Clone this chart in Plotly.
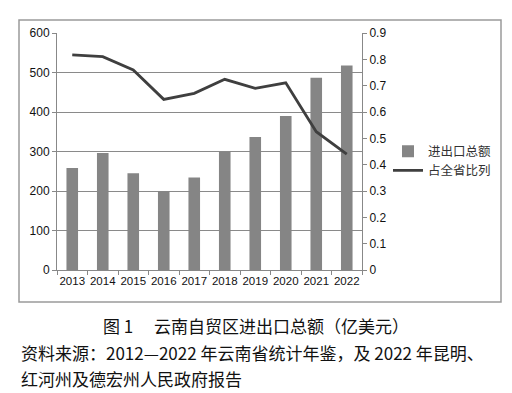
import plotly.graph_objects as go

years = ["2013", "2014", "2015", "2016", "2017", "2018", "2019", "2020", "2021", "2022"]
trade_total = [258, 296, 245, 200, 234, 300, 337, 390, 487, 518]
share_ratio = [0.817, 0.81, 0.76, 0.648, 0.671, 0.724, 0.69, 0.711, 0.525, 0.44]

L, R, T, B = 57, 362, 33, 270
W, H = R - L, B - T

def px(x):
    return (x - L) / W

def py(y):
    return (B - y) / H

font_cjk = "Noto Sans CJK SC"
font_tick = "Liberation Sans"

fig = go.Figure()
fig.add_trace(go.Bar(x=years, y=trade_total, name="进出口总额",
                     marker=dict(color="#858585", line=dict(width=0)),
                     width=0.38))
fig.add_trace(go.Scatter(x=years, y=share_ratio, name="占全省比列", yaxis="y2",
                         mode="lines", line=dict(color="#3f3f3f", width=2.8)))

fig.update_layout(
    width=512, height=393,
    margin=dict(l=L, r=512 - R, t=T, b=393 - B, autoexpand=False),
    paper_bgcolor="white", plot_bgcolor="white",
    showlegend=True,
    legend=dict(x=px(388), y=py(161), xanchor="left", yanchor="middle",
                font=dict(family=font_cjk, size=12.5, color="#333"),
                tracegroupgap=2, itemwidth=30, bgcolor="rgba(0,0,0,0)"),
    bargap=0.6,
    xaxis=dict(type="category", showline=True, linecolor="#888", linewidth=1,
               ticks="outside", tickson="boundaries", ticklen=4, tickcolor="#888",
               tickangle=0, automargin=False,
               tickfont=dict(family=font_tick, size=11.5, color="#111"),
               showgrid=False),
    yaxis=dict(range=[0, 600], dtick=100, showline=True, linecolor="#888",
               ticks="outside", ticklen=4, tickcolor="#888", automargin=False,
               gridcolor="#8a8a8a", gridwidth=1, zeroline=False,
               tickfont=dict(family=font_tick, size=12, color="#111")),
    yaxis2=dict(range=[0, 0.9], dtick=0.1, overlaying="y", side="right",
                showline=True, linecolor="#888", ticks="outside", ticklen=4,
                tickcolor="#888", showgrid=False, zeroline=False, automargin=False,
                tickformat="~g",
                tickfont=dict(family=font_tick, size=12, color="#111")),
)

fig.add_shape(type="rect", xref="paper", yref="paper",
              x0=px(19), x1=px(501), y0=py(302), y1=py(20),
              line=dict(color="#9a9a9a", width=1.5), layer="below")

fig.add_annotation(text="图 1　 云南自贸区进出口总额（亿美元）", xref="paper", yref="paper",
                   x=px(256), y=py(325), showarrow=False, xanchor="center", yanchor="middle",
                   font=dict(family=font_cjk, size=17, color="#111"))
fig.add_annotation(text="资料来源：2012—2022 年云南省统计年鉴，及 2022 年昆明、", xref="paper", yref="paper",
                   x=px(19), y=py(352), showarrow=False, xanchor="left", yanchor="middle",
                   font=dict(family=font_cjk, size=17, color="#111"))
fig.add_annotation(text="红河州及德宏州人民政府报告", xref="paper", yref="paper",
                   x=px(19), y=py(378), showarrow=False, xanchor="left", yanchor="middle",
                   font=dict(family=font_cjk, size=17, color="#111"))

fig.write_html("out.html", config={"displayModeBar": False},
               post_script="document.body.style.margin='0';document.body.style.overflow='hidden';")
